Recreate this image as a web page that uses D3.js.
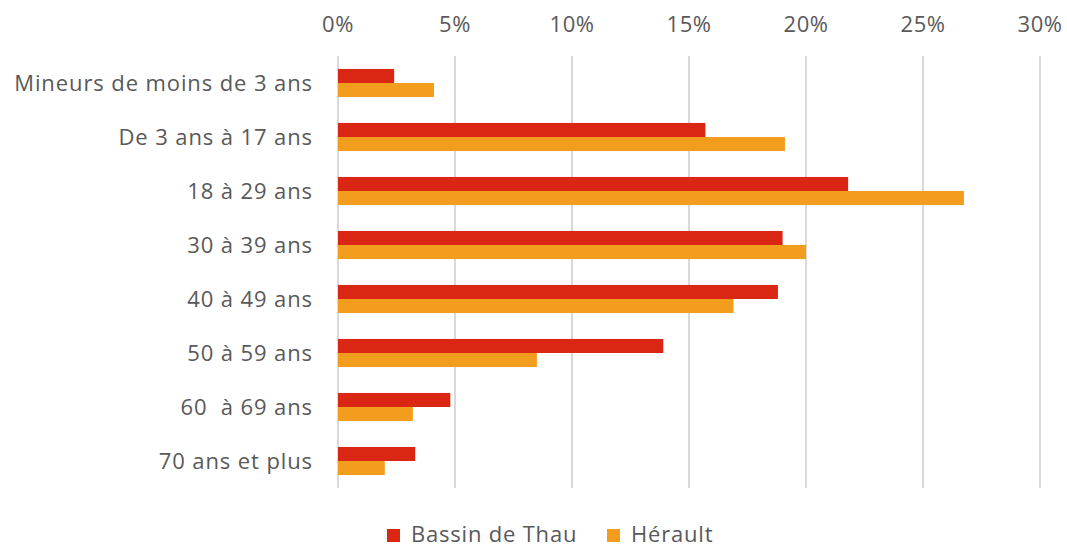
<!DOCTYPE html>
<html>
<head>
<meta charset="utf-8">
<script src="https://cdn.jsdelivr.net/npm/d3@7"></script>
<style>
  body { margin: 0; background: #fff; }
  svg text { font-family: "Open Sans", "Noto Sans", sans-serif; fill: #595959; white-space: pre; }
</style>
</head>
<body>
<svg id="chart" width="1067" height="548"></svg>
<script>
// data
var categories = ['Mineurs de moins de 3 ans', 'De 3 ans à 17 ans', '18 à 29 ans', '30 à 39 ans',
  '40 à 49 ans', '50 à 59 ans', '60  à 69 ans', '70 ans et plus'];
var seriesNames = ['Bassin de Thau', 'Hérault'];
var bassinValues = [2.4, 15.7, 21.8, 19.0, 18.8, 13.9, 4.8, 3.3];
var heraultValues = [4.1, 19.1, 26.75, 20.0, 16.9, 8.5, 3.2, 2.0];
var tickValues = [0, 5, 10, 15, 20, 25, 30];

var COLORS = ['#DA2713', '#F29D1E'],
  FONT = '22px';

var svg = d3.select('#chart');

var x = d3.scaleLinear().domain([0, 30]).range([338, 1040]);
var y = d3.scaleBand().domain(categories).range([56, 488]).paddingInner(0.48).paddingOuter(0.24);
var sub = d3.scaleBand().domain(seriesNames).range([0, y.bandwidth()]);

// gridlines
svg.append('g')
  .selectAll('line')
  .data(tickValues)
  .enter()
  .append('line')
  .attr('x1', function(d) { return x(d); })
  .attr('x2', function(d) { return x(d); })
  .attr('y1', 56)
  .attr('y2', 488)
  .attr('stroke', '#d9d9d9')
  .attr('stroke-width', 2);

// top axis labels
svg.append('g')
  .selectAll('text')
  .data(tickValues)
  .enter()
  .append('text')
  .attr('x', function(d) { return x(d); })
  .attr('y', 32)
  .style('text-anchor', 'middle')
  .style('font-size', FONT)
  .style('letter-spacing', '0.5px')
  .text(function(d) { return d + '%'; });

// category labels
svg.append('g')
  .selectAll('text')
  .data(categories)
  .enter()
  .append('text')
  .attr('x', 313)
  .attr('y', function(d) { return y(d) + y.bandwidth() / 2; })
  .attr('dy', '0.38em')
  .style('text-anchor', 'end')
  .style('font-size', FONT)
  .style('letter-spacing', '0.9px')
  .text(function(d) { return d; });

// bars
var allSeries = [bassinValues, heraultValues];
allSeries.forEach(function(values, s) {
  svg.append('g')
    .selectAll('rect')
    .data(values)
    .enter()
    .append('rect')
    .attr('x', x(0))
    .attr('y', function(d, i) { return y(categories[i]) + sub(seriesNames[s]); })
    .attr('width', function(d) { return x(d) - x(0); })
    .attr('height', sub.bandwidth())
    .attr('fill', COLORS[s]);
});

// legend
var legendX = [387, 607];
var legend = svg.append('g')
  .selectAll('g')
  .data(seriesNames)
  .enter()
  .append('g')
  .attr('transform', function(d, i) { return 'translate(' + legendX[i] + ',529)'; });

legend.append('rect')
  .attr('width', 13)
  .attr('height', 13)
  .attr('fill', function(d, i) { return COLORS[i]; });

legend.append('text')
  .attr('x', 24)
  .attr('y', 13)
  .style('font-size', FONT)
  .style('letter-spacing', '0.8px')
  .text(function(d) { return d; });
</script>
</body>
</html>
